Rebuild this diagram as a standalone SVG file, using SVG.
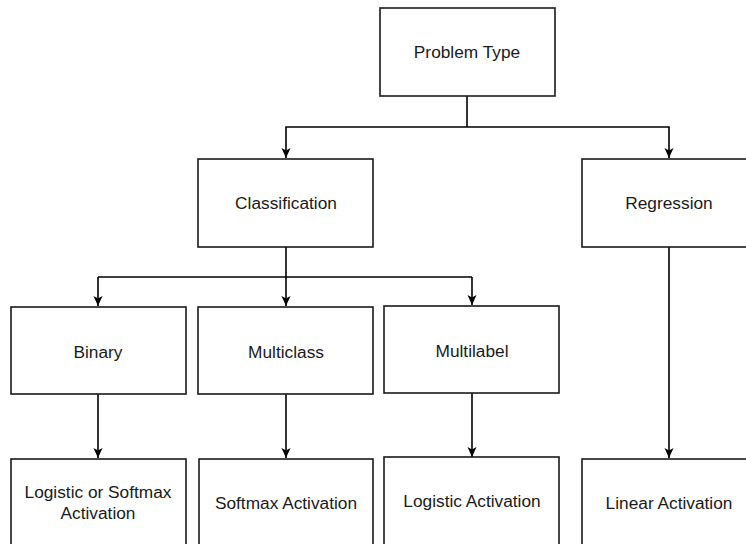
<svg xmlns="http://www.w3.org/2000/svg" width="746" height="544" viewBox="0 0 746 544">
  <style>
    .box { fill: #ffffff; stroke: #1a1a1a; stroke-width: 1.6; }
    .lbl { font-family: "Liberation Sans", Arial, sans-serif; font-size: 17.3px; fill: #1a1a1a; text-anchor: middle; dominant-baseline: central; }
    .edge { fill: none; stroke: #000000; stroke-width: 1.6; }
  </style>
  <defs>
    <marker id="arrow" markerUnits="userSpaceOnUse" markerWidth="12" markerHeight="12" viewBox="0 0 12 12" refX="11" refY="6" orient="auto">
      <path d="M1,1.5 L11,6 L1,10.5 L3.5,6 Z" fill="#000000"/>
    </marker>
  </defs>
  <rect width="746" height="544" fill="#ffffff"/>

  <!-- connectors -->
  <g id="connectors">
    <path class="edge" d="M467,96 V127"/>
    <path class="edge" d="M467,127 H286 V158" marker-end="url(#arrow)"/>
    <path class="edge" d="M467,127 H669 V158" marker-end="url(#arrow)"/>
    <path class="edge" d="M286,247 V306" marker-end="url(#arrow)"/>
    <path class="edge" d="M98,277 H472" stroke="#555555"/>
    <path class="edge" d="M98,277 V306" marker-end="url(#arrow)"/>
    <path class="edge" d="M472,277 V305" marker-end="url(#arrow)"/>
    <path class="edge" d="M98,394 V458" marker-end="url(#arrow)"/>
    <path class="edge" d="M286,394 V458" marker-end="url(#arrow)"/>
    <path class="edge" d="M472,393 V457" marker-end="url(#arrow)"/>
    <path class="edge" d="M669,247 V458" marker-end="url(#arrow)"/>
  </g>

  <g id="problem-type">
    <rect class="box" x="380" y="8" width="175" height="88"/>
    <text class="lbl" x="467" y="52">Problem Type</text>
  </g>
  <g id="classification">
    <rect class="box" x="198" y="159" width="175" height="88"/>
    <text class="lbl" x="286" y="203">Classification</text>
  </g>
  <g id="regression">
    <rect class="box" x="582" y="159" width="175" height="88"/>
    <text class="lbl" x="669" y="203">Regression</text>
  </g>
  <g id="binary">
    <rect class="box" x="11" y="307" width="175" height="87" stroke="#444444"/>
    <text class="lbl" x="98" y="352">Binary</text>
  </g>
  <g id="multiclass">
    <rect class="box" x="198" y="307" width="175" height="87" stroke="#444444"/>
    <text class="lbl" x="286" y="352">Multiclass</text>
  </g>
  <g id="multilabel">
    <rect class="box" x="384" y="306" width="175" height="87"/>
    <text class="lbl" x="472" y="351">Multilabel</text>
  </g>
  <g id="logistic-or-softmax">
    <rect class="box" x="11" y="459" width="175" height="88"/>
    <text class="lbl" x="98" y="492">Logistic or Softmax</text>
    <text class="lbl" x="98" y="513">Activation</text>
  </g>
  <g id="softmax-activation">
    <rect class="box" x="199" y="459" width="174" height="88"/>
    <text class="lbl" x="286" y="503">Softmax Activation</text>
  </g>
  <g id="logistic-activation">
    <rect class="box" x="384" y="457" width="175" height="90"/>
    <text class="lbl" x="472" y="501">Logistic Activation</text>
  </g>
  <g id="linear-activation">
    <rect class="box" x="582" y="459" width="175" height="88"/>
    <text class="lbl" x="669" y="503">Linear Activation</text>
  </g>
</svg>
